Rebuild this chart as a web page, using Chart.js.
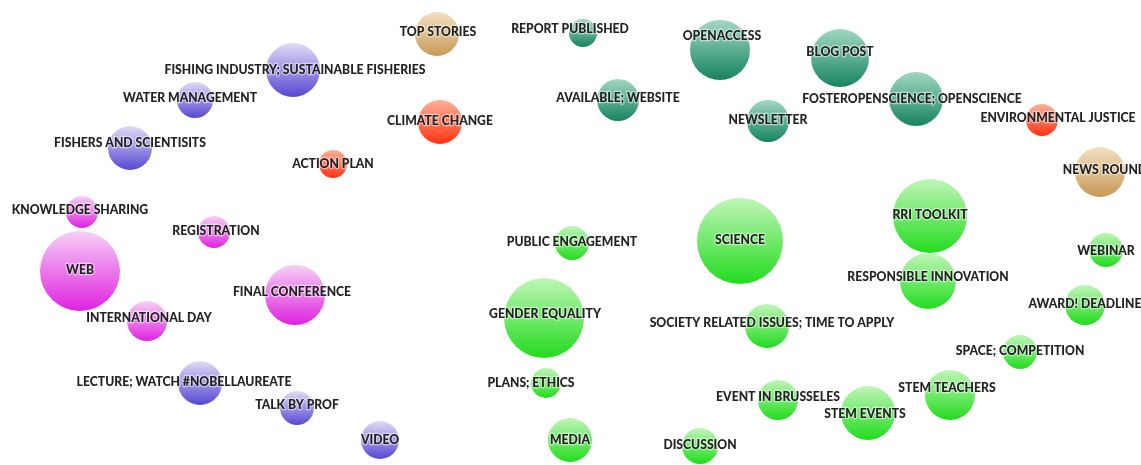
<!DOCTYPE html>
<html>
<head>
<meta charset="utf-8">
<script src="https://cdn.jsdelivr.net/npm/chart.js@4"></script>
<style>
  html, body { margin: 0; padding: 0; background: #fff; }
  #wrap { width: 1141px; height: 465px; position: relative; }
</style>
</head>
<body>
<div id="wrap"><canvas id="bubbles"></canvas></div>
<script>
// keyword bubbles, grouped by cluster
const purpleTerms = ["FISHING INDUSTRY; SUSTAINABLE FISHERIES", "WATER MANAGEMENT", "FISHERS AND SCIENTISITS", "LECTURE; WATCH #NOBELLAUREATE", "TALK BY PROF", "VIDEO"];
const purpleX = [293, 195, 130, 200, 297, 380];
const purpleY = [70, 100, 148, 383, 408, 440];
const purpleR = [27, 18, 22, 22, 17, 19];
const purpleLabelX = [295, 190, 130, 184, 297, 380];
const purpleLabelY = [70, 98, 143, 382, 405, 440];

const magentaTerms = ["KNOWLEDGE SHARING", "REGISTRATION", "WEB", "FINAL CONFERENCE", "INTERNATIONAL DAY"];
const magentaX = [82, 214, 80, 295, 147];
const magentaY = [212, 232, 271, 295, 321];
const magentaR = [16, 16, 40, 30, 20];
const magentaLabelX = [80, 216, 80, 292, 149];
const magentaLabelY = [210, 231, 270, 292, 318];

const redTerms = ["CLIMATE CHANGE", "ACTION PLAN", "ENVIRONMENTAL JUSTICE"];
const redX = [440, 333, 1042];
const redY = [122, 164, 120];
const redR = [22, 14, 16];
const redLabelX = [440, 333, 1058];
const redLabelY = [121, 164, 118];

const tanTerms = ["TOP STORIES", "NEWS ROUND"];
const tanX = [437, 1100];
const tanY = [34, 172];
const tanR = [22, 25];
const tanLabelX = [438, 1105];
const tanLabelY = [32, 170];

const tealTerms = ["REPORT PUBLISHED", "OPENACCESS", "BLOG POST", "AVAILABLE; WEBSITE", "NEWSLETTER", "FOSTEROPENSCIENCE; OPENSCIENCE"];
const tealX = [583, 720, 840, 618, 768, 916];
const tealY = [33, 50, 58, 100, 121, 99];
const tealR = [14, 30, 29, 21, 21, 27];
const tealLabelX = [570, 722, 840, 618, 768, 912];
const tealLabelY = [29, 36, 52, 98, 120, 99];

const greenTerms = ["RRI TOOLKIT", "SCIENCE", "PUBLIC ENGAGEMENT", "WEBINAR", "RESPONSIBLE INNOVATION", "GENDER EQUALITY", "AWARD! DEADLINE", "SOCIETY RELATED ISSUES; TIME TO APPLY", "SPACE; COMPETITION", "PLANS; ETHICS", "STEM TEACHERS", "EVENT IN BRUSSELES", "STEM EVENTS", "MEDIA", "DISCUSSION"];
const greenX = [930, 740, 572, 1106, 928, 544, 1085, 767, 1020, 546, 950, 778, 868, 570, 700];
const greenY = [216, 241, 243, 250, 281, 318, 305, 326, 352, 383, 395, 400, 413, 440, 446];
const greenR = [37, 43, 17, 17, 28, 40, 20, 22, 17, 15, 25, 20, 27, 22, 18];
const greenLabelX = [930, 740, 572, 1106, 928, 545, 1085, 772, 1020, 531, 947, 778, 865, 570, 700];
const greenLabelY = [215, 240, 242, 251, 277, 314, 304, 323, 351, 383, 388, 397, 414, 440, 445];

function makeSet(terms, xs, ys, rs, lx, ly, topColor, bottomColor) {
  return {
    data: terms.map((t, i) => ({ x: xs[i], y: ys[i], r: rs[i], label: t, lx: lx[i], ly: ly[i] })),
    backgroundColor: (c) => {
      const chart = c.chart;
      const p = c.raw;
      if (!p || !chart.scales.y) return bottomColor;
      const cy = chart.scales.y.getPixelForValue(p.y);
      if (!Number.isFinite(cy)) return bottomColor;
      const g = chart.ctx.createLinearGradient(0, cy - p.r, 0, cy + p.r);
      g.addColorStop(0, topColor);
      g.addColorStop(1, bottomColor);
      return g;
    },
    borderWidth: 0,
    hoverBorderWidth: 0,
    clip: false,
  };
}

// draws the keyword text on top of all bubbles
const keywordLabels = {
  id: "keywordLabels",
  afterDatasetsDraw(chart) {
    const ctx = chart.ctx;
    const xs = chart.scales.x, ys = chart.scales.y;
    ctx.save();
    ctx.font = "900 12.2px Lato, 'Open Sans', sans-serif";
    ctx.textAlign = "center";
    ctx.textBaseline = "middle";
    ctx.lineJoin = "round";
    chart.data.datasets.forEach((ds) => {
      ds.data.forEach((p) => {
        const px = xs.getPixelForValue(p.lx);
        const py = ys.getPixelForValue(p.ly);
        ctx.strokeStyle = "rgba(255,255,255,0.5)";
        ctx.lineWidth = 2.5;
        ctx.strokeText(p.label, px, py);
        ctx.fillStyle = "#222";
        ctx.fillText(p.label, px, py);
      });
    });
    ctx.restore();
  },
};

new Chart(document.getElementById("bubbles"), {
  type: "bubble",
  data: {
    datasets: [
      makeSet(purpleTerms, purpleX, purpleY, purpleR, purpleLabelX, purpleLabelY, "#e0dcf8", "#5648d2"),
      makeSet(magentaTerms, magentaX, magentaY, magentaR, magentaLabelX, magentaLabelY, "#f6d0f6", "#e022e0"),
      makeSet(redTerms, redX, redY, redR, redLabelX, redLabelY, "#ffb09a", "#ff3210"),
      makeSet(tanTerms, tanX, tanY, tanR, tanLabelX, tanLabelY, "#f2e0c0", "#c89a58"),
      makeSet(tealTerms, tealX, tealY, tealR, tealLabelX, tealLabelY, "#a0d8c0", "#17845f"),
      makeSet(greenTerms, greenX, greenY, greenR, greenLabelX, greenLabelY, "#c0f6b8", "#22dc1e"),
    ],
  },
  options: {
    responsive: true,
    maintainAspectRatio: false,
    animation: false,
    layout: { padding: 0, autoPadding: false },
    plugins: { legend: { display: false }, tooltip: { enabled: false } },
    scales: {
      x: { type: "linear", min: 0, max: 1141, display: false },
      y: { type: "linear", min: 0, max: 465, reverse: true, display: false },
    },
  },
  plugins: [keywordLabels],
});
</script>
</body>
</html>
